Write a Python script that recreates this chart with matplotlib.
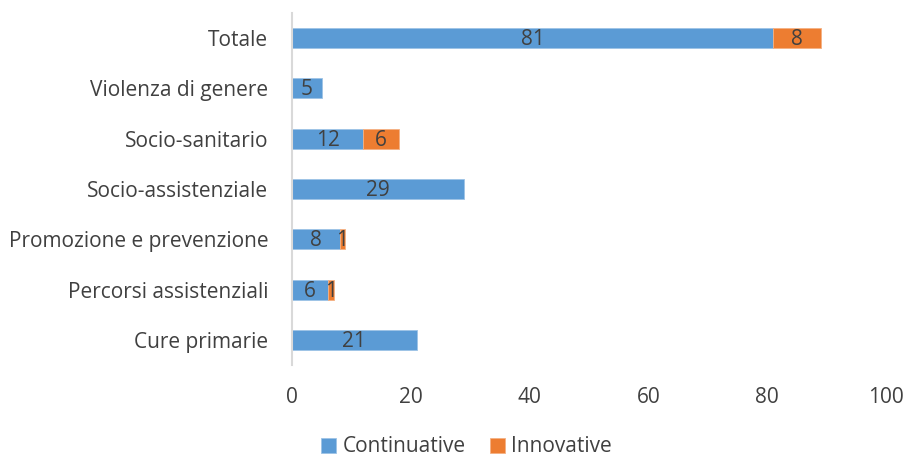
import matplotlib.pyplot as plt
import numpy as np

plt.rcParams['font.family'] = ['Open Sans', 'DejaVu Sans']

categories = ['Cure primarie', 'Percorsi assistenziali', 'Promozione e prevenzione',
              'Socio-assistenziale', 'Socio-sanitario', 'Violenza di genere', 'Totale']
continuative = [21, 6, 8, 29, 12, 5, 81]
innovative = [0, 1, 1, 0, 6, 0, 8]

blue = '#5B9BD5'
orange = '#ED7D31'
txt = '#404040'
fs = 15

fig = plt.figure(figsize=(9.08, 4.59), dpi=100)
ax = fig.add_axes([292/908, 1-365/459, (886-292)/908, (365-13)/459])

y = np.arange(len(categories))
b1 = ax.barh(y, continuative, height=0.4, color=blue, edgecolor='#9DC3E6', linewidth=0.6, label='Continuative')
# only draw innovative where nonzero
inn = np.array(innovative, dtype=float)
mask = inn > 0
b2 = ax.barh(y[mask], inn[mask], left=np.array(continuative)[mask], height=0.4, color=orange,
             edgecolor='#F4B183', linewidth=0.6, label='Innovative')

for i in range(len(categories)):
    c = continuative[i]
    n = innovative[i]
    ax.text(c/2, i - 0.03, str(c), ha='center', va='center', fontsize=fs, color=txt)
    if n > 0:
        ax.text(c + n/2, i - 0.03, str(n), ha='center', va='center', fontsize=fs, color=txt)

ax.set_xlim(0, 100)
ax.set_ylim(-0.5, 6.5)
ax.set_yticks(y)
ax.set_yticklabels(categories, fontsize=fs, color=txt)
ax.set_xticks(range(0, 101, 20))
ax.tick_params(axis='x', labelsize=fs, labelcolor=txt, length=0, pad=16)
ax.tick_params(axis='y', length=0, pad=17)
for s in ['top', 'right', 'bottom']:
    ax.spines[s].set_visible(False)
ax.spines['left'].set_color('#D9D9D9')
ax.spines['left'].set_linewidth(1.5)

fig.legend(handles=[b1, b2], loc='center', bbox_to_anchor=(0.514, 1-447/459), ncol=2,
           frameon=False, fontsize=fs, labelcolor=txt, handlelength=0.7, handleheight=0.7,
           handletextpad=0.3, columnspacing=1.2)

fig.savefig('out.png', dpi=100)
